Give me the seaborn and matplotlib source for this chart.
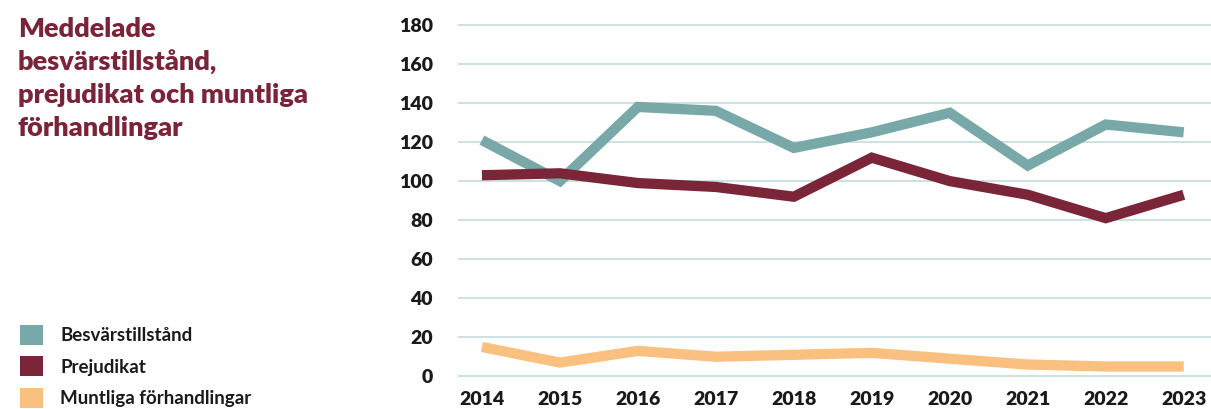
import matplotlib
matplotlib.use("Agg")
import matplotlib.pyplot as plt
from matplotlib.patches import Patch
import seaborn as sns
import pandas as pd

years = [2014, 2015, 2016, 2017, 2018, 2019, 2020, 2021, 2022, 2023]
besvarstillstand = [121, 100, 138, 136, 117, 125, 135, 108, 129, 125]
prejudikat = [103, 104, 99, 97, 92, 112, 100, 93, 81, 93]
muntliga = [15, 7, 13, 10, 11, 12, 9, 6, 5, 5]
series_names = ["Besvärstillstånd", "Prejudikat", "Muntliga förhandlingar"]
colors = ["#79a8a8", "#7a2538", "#f9c07f"]
yticks = [0, 20, 40, 60, 80, 100, 120, 140, 160, 180]
title = "Meddelade\nbesvärstillstånd,\nprejudikat och muntliga\nförhandlingar"

df = pd.DataFrame({
    "year": years * 3,
    "value": besvarstillstand + prejudikat + muntliga,
    "series": [series_names[0]] * len(years) + [series_names[1]] * len(years) + [series_names[2]] * len(years),
})

sns.set_theme(style="white")
plt.rcParams["font.family"] = ["Lato", "DejaVu Sans"]

fig = plt.figure(figsize=(12.11, 4.09), dpi=100)
ax = fig.add_axes([0.378, 0.061, 0.622, 0.897])

sns.lineplot(data=df, x="year", y="value", hue="series", hue_order=series_names,
             palette=colors, linewidth=7.4, ax=ax, legend=False, zorder=3)
for ln in ax.lines:
    ln.set_solid_capstyle("butt")
    ln.set_solid_joinstyle("miter")

ax.set_xlim(2013.69, 2023.35)
ax.set_ylim(-4, 184)
ax.set_yticks(yticks)
ax.set_xticks(years)
ax.set_xticklabels([str(y) for y in years])
ax.yaxis.grid(True, color="#cfe2e2", linewidth=1.5)
ax.xaxis.grid(False)
for s in ax.spines.values():
    s.set_visible(False)
ax.tick_params(axis="y", length=0, pad=18, labelsize=14, labelcolor="#1a1a1a")
ax.tick_params(axis="x", length=0, pad=5, labelsize=14, labelcolor="#1a1a1a")
for lab in ax.get_xticklabels() + ax.get_yticklabels():
    lab.set_fontweight("heavy")
ax.set_xlabel("")
ax.set_ylabel("")

fig.text(18 / 1211, 1 - 17 / 409, title, ha="left", va="top", fontsize=19.5,
         fontweight="heavy", color="#7b2339", linespacing=1.42)

handles = [Patch(facecolor=c, edgecolor="none") for c in colors]
fig.legend(handles, series_names, loc="upper left", bbox_to_anchor=(3 / 1211, 1 - 308 / 409),
           frameon=False, handlelength=1.25, handleheight=1.25,
           handletextpad=0.9, labelspacing=0.62, prop={"weight": "bold", "size": 13.5})
for t in fig.legends[0].get_texts():
    t.set_color("#1a1a1a")

fig.savefig("out.png", dpi=100)
